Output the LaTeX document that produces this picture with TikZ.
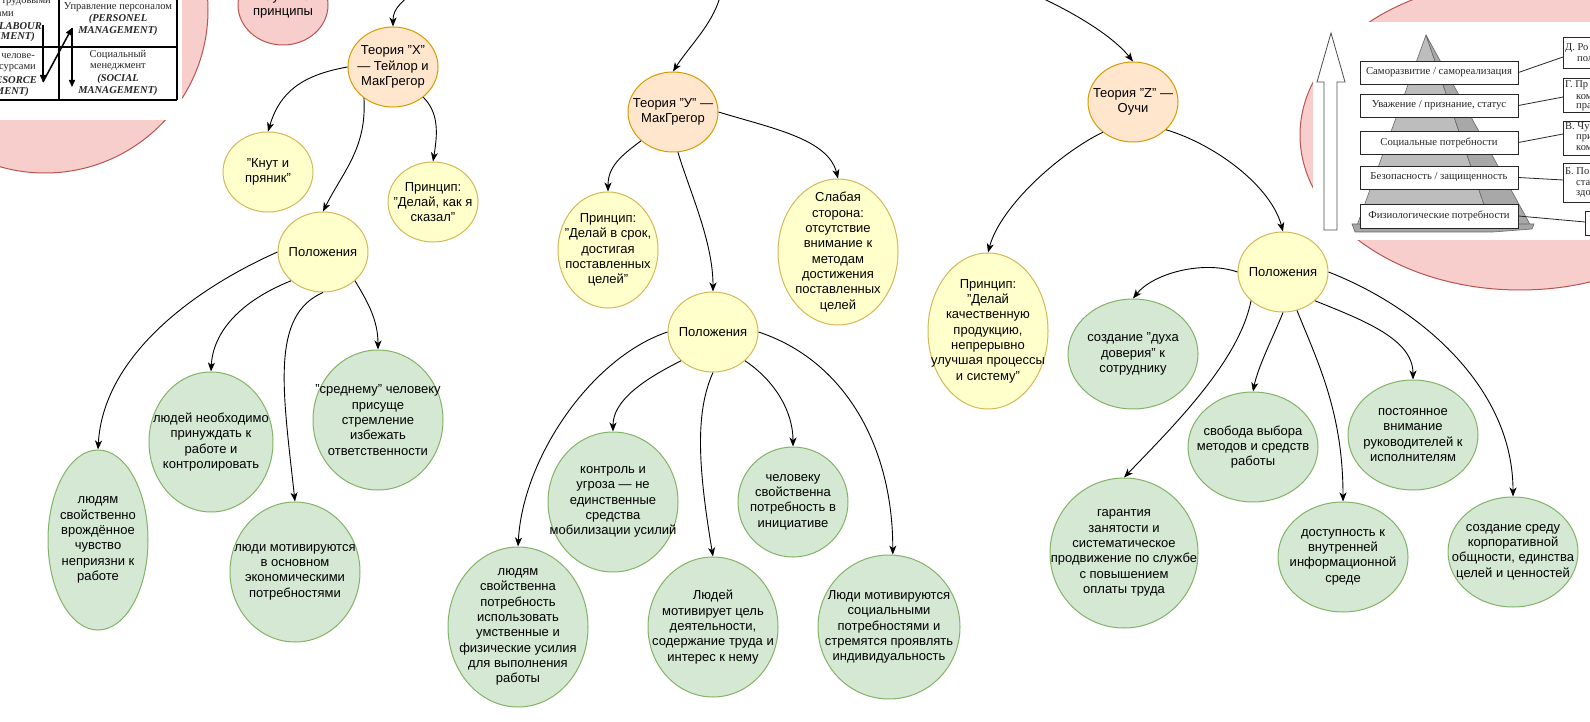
\documentclass[tikz,border=0pt]{standalone}
\usepackage{fontspec}
\setmainfont{Liberation Sans}
\newfontfamily\imgserif{Liberation Serif}
\usetikzlibrary{shapes.geometric,arrows.meta}
\definecolor{pinkF}{HTML}{F8CECC}
\definecolor{pinkD}{HTML}{B85450}
\definecolor{orF}{HTML}{FFE6CC}
\definecolor{orD}{HTML}{D79B00}
\definecolor{yeF}{HTML}{FFFFCC}
\definecolor{yeD}{HTML}{D6B656}
\definecolor{grF}{HTML}{D5E8D4}
\definecolor{grD}{HTML}{82B366}
\definecolor{imgInk}{HTML}{262626}
\definecolor{pyrL}{HTML}{BDBDBD}
\definecolor{pyrR}{HTML}{A8A8A8}
\tikzset{
  bub/.style={ellipse, draw, line width=1pt, inner sep=-100pt, align=center,
    font=\fontsize{13}{15.3}\selectfont, text=black},
  pinkn/.style={bub, fill=pinkF, draw=pinkD},
  orn/.style={bub, fill=orF, draw=orD},
  yel/.style={bub, fill=yeF, draw=yeD},
  grn/.style={bub, fill=grF, draw=grD},
  arr/.style={draw=black, line width=0.9pt, -{Stealth[length=9pt,width=7pt,inset=2.5pt]}},
  imgtxt/.style={inner sep=0pt, font=\imgserif\fontsize{10.5}{12}\selectfont, text=imgInk},
  imgit/.style={imgtxt, font=\imgserif\bfseries\itshape\fontsize{10.5}{12}\selectfont},
  tabline/.style={draw=black, line width=1.4pt},
  tabarr/.style={draw=black, line width=1.5pt, -{Triangle[length=7pt,width=6pt]}},
  mbox/.style={draw=imgInk, fill=white, line width=0.8pt, inner sep=0pt,
    font=\imgserif\fontsize{10.7}{12}\selectfont, text=imgInk},
  rtxt/.style={inner sep=0pt, anchor=west, font=\imgserif\fontsize{10.5}{12}\selectfont, text=imgInk},
  mline/.style={draw=imgInk, line width=0.8pt},
}
\begin{document}
\begin{tikzpicture}[x=1pt,y=-1pt]
\useasboundingbox (0,0) rectangle (1590,722);
\fill[white] (0,0) rectangle (1590,722);
\clip (0,0) rectangle (1590,722);

% ---------- top-left pink circle with table image ----------
\node[pinkn, minimum width=326, minimum height=326] (bigL) at (45,10) {};
\fill[white] (0,-5) rectangle (182,120);
\draw[tabline] (59,-5) -- (59,100);
\draw[tabline] (177,-5) -- (177,100);
\draw[tabline] (-5,47) -- (177,47);
\draw[tabline] (-5,100) -- (177,100);
\coordinate (ta1) at (43,25);
\coordinate (ta2) at (43,82);
\coordinate (ta3) at (72,28);
\coordinate (ta4) at (72,87);
\draw[tabarr] (ta1) -- (ta2);
\draw[tabarr] (ta2) -- (ta3);
\draw[tabarr] (ta3) -- (ta4);
\node[imgtxt] (t1) at (118,7) {Управление персоналом};
\node[imgit] (t2) at (118,19) {(PERSONEL};
\node[imgit] (t3) at (118,31) {MANAGEMENT)};
\node[imgtxt] (t4) at (118,55) {Социальный};
\node[imgtxt] (t5) at (118,67) {менеджмент};
\node[imgit] (t6) at (118,79) {(SOCIAL};
\node[imgit] (t7) at (118,91) {MANAGEMENT)};
\node[imgtxt, anchor=east] (l1) at (51,2) {трудовыми};
\node[imgtxt, anchor=east] (l2) at (14,14) {сами};
\node[imgit, anchor=east] (l3) at (42,26) {LABOUR};
\node[imgit, anchor=east] (l4) at (35,37) {EMENT)};
\node[imgtxt, anchor=east] (l5) at (35,56) {челове-};
\node[imgtxt, anchor=east] (l6) at (36,68) {сурсами};
\node[imgit, anchor=east] (l7) at (37,80) {ESORCE};
\node[imgit, anchor=east] (l8) at (29,92) {MENT)};

% ---------- top-right pink ellipse with Maslow image ----------
\node[pinkn, minimum width=440, minimum height=310] (bigR) at (1520,135) {};
\fill[white] (1313,22) rectangle (1592,240);
\draw[draw=imgInk!80, fill=white, line width=0.8pt]
  (1324,230) -- (1324,82) -- (1317,82) -- (1331,33) -- (1345,82) -- (1337,82) -- (1337,230) -- cycle;
\fill[pyrL, draw=imgInk!70, line width=0.6pt] (1426,35) -- (1493,231) -- (1355,231) -- cycle;
\fill[pyrR, draw=imgInk!70, line width=0.6pt] (1426,35) -- (1532,228) -- (1493,231) -- cycle;
\fill[gray!70, draw=imgInk!70, line width=0.6pt] (1352,224) -- (1534,224) -- (1532,229) -- (1493,232) -- (1355,232) -- cycle;
\node[mbox, minimum width=158, minimum height=23] (m1) at (1439,72.5) {Саморазвитие / самореализация};
\node[mbox, minimum width=158, minimum height=23] (m2) at (1439,105.5) {Уважение / признание, статус};
\node[mbox, minimum width=158, minimum height=23] (m3) at (1439,142.5) {Социальные потребности};
\node[mbox, minimum width=158, minimum height=23] (m4) at (1439,177.5) {Безопасность / защищенность};
\node[mbox, minimum width=158, minimum height=24] (m5) at (1439,216) {Физиологические потребности};
\node[mbox, anchor=north west, minimum width=60, minimum height=31] (r1) at (1563,37) {};
\node[mbox, anchor=north west, minimum width=60, minimum height=34] (r2) at (1563,78) {};
\node[mbox, anchor=north west, minimum width=60, minimum height=34] (r3) at (1563,121) {};
\node[mbox, anchor=north west, minimum width=60, minimum height=39] (r4) at (1563,163) {};
\node[mbox, anchor=north west, minimum width=40, minimum height=24] (r5) at (1585,211) {};
\node[rtxt] (r1a) at (1565,48) {Д. Ро};
\node[rtxt] (r1b) at (1577,59) {пол};
\node[rtxt] (r2a) at (1565,85) {Г. Пр};
\node[rtxt] (r2b) at (1576,97) {ком};
\node[rtxt] (r2c) at (1576,107) {пра};
\node[rtxt] (r3a) at (1565,127) {В. Чу};
\node[rtxt] (r3b) at (1576,138) {при};
\node[rtxt] (r3c) at (1576,148) {ком};
\node[rtxt] (r4a) at (1565,171) {Б. По};
\node[rtxt] (r4b) at (1576,183) {ста};
\node[rtxt] (r4c) at (1576,194) {здо};
\coordinate (r1in) at (1563,57);
\coordinate (r2in) at (1563,97);
\coordinate (r3in) at (1563,134);
\coordinate (r4in) at (1563,180);
\coordinate (r5in) at (1585,222);
\draw[mline] (m1.east) -- (r1in);
\draw[mline] (m2.east) -- (r2in);
\draw[mline] (m3.east) -- (r3in);
\draw[mline] (m4.east) -- (r4in);
\draw[mline] (m5.east) -- (r5in);

% ---------- nodes ----------
\node[pinkn, minimum width=90, minimum height=80] (sci) at (283,5) {Научные\\принципы};

\node[orn, minimum width=90, minimum height=80] (thX) at (393,67) {Теория "X"\\— Тейлор и\\МакГрегор};
\node[yel, minimum width=90, minimum height=80] (knut) at (268,172) {"Кнут и\\пряник"};
\node[yel, minimum width=90, minimum height=80] (prX) at (433,202) {Принцип:\\"Делай, как я\\сказал"};
\node[yel, minimum width=90, minimum height=80] (polX) at (323,252) {Положения};
\node[grn, minimum width=100, minimum height=180] (gx1) at (98,540) {людям\\свойственно\\врождённое\\чувство\\неприязни к\\работе};
\node[grn, minimum width=124, minimum height=140] (gx2) at (211,442) {людей необходимо\\принуждать к\\работе и\\контролировать};
\node[grn, minimum width=130, minimum height=140] (gx3) at (295,572) {люди мотивируются\\в основном\\экономическими\\потребностями};
\node[grn, minimum width=130, minimum height=140] (gx4) at (378,420) {"среднему" человеку\\присуще\\стремление\\избежать\\ответственности};

\node[orn, minimum width=90, minimum height=80] (thY) at (673,112) {Теория "У" —\\МакГрегор};
\node[yel, minimum width=100, minimum height=116] (prY) at (608,250) {Принцип:\\"Делай в срок,\\достигая\\поставленных\\целей"};
\node[yel, minimum width=120, minimum height=146] (weak) at (838,252) {Слабая\\сторона:\\отсутствие\\внимание к\\методам\\достижения\\поставленных\\целей};
\node[yel, minimum width=90, minimum height=80] (polY) at (713,332) {Положения};
\node[grn, minimum width=140, minimum height=160] (gy1) at (518,627) {людям\\свойственна\\потребность\\использовать\\умственные и\\физические усилия\\для выполнения\\работы};
\node[grn, minimum width=130, minimum height=140] (gy2) at (613,502) {контроль и\\угроза — не\\единственные\\средства\\мобилизации усилий};
\node[grn, minimum width=130, minimum height=140] (gy3) at (713,627) {Людей\\мотивирует цель\\деятельности,\\содержание труда и\\интерес к нему};
\node[grn, minimum width=110, minimum height=110] (gy4) at (793,502) {человеку\\свойственна\\потребность в\\инициативе};
\node[grn, minimum width=142, minimum height=144] (gy5) at (889,627) {Люди мотивируются\\социальными\\потребностями и\\стремятся проявлять\\индивидуальность};

\node[orn, minimum width=90, minimum height=80] (thZ) at (1133,102) {Теория "Z" —\\Оучи};
\node[yel, minimum width=120, minimum height=156] (prZ) at (988,331) {Принцип:\\"Делай\\качественную\\продукцию,\\непрерывно\\улучшая процессы\\и систему"};
\node[yel, minimum width=90, minimum height=80] (polZ) at (1283,272) {Положения};
\node[grn, minimum width=130, minimum height=110] (gz1) at (1133,354) {создание "духа\\доверия" к\\сотруднику};
\node[grn, minimum width=148, minimum height=150] (gz2) at (1124,553) {гарантия\\занятости и\\систематическое\\продвижение по службе\\с повышением\\оплаты труда};
\node[grn, minimum width=130, minimum height=110] (gz3) at (1253,447) {свобода выбора\\методов и средств\\работы};
\node[grn, minimum width=130, minimum height=110] (gz4) at (1413,435) {постоянное\\внимание\\руководителей к\\исполнителям};
\node[grn, minimum width=130, minimum height=110] (gz5) at (1343,557) {доступность к\\внутренней\\информационной\\среде};
\node[grn, minimum width=130, minimum height=110] (gz6) at (1513,552) {создание среду\\корпоративной\\общности, единства\\целей и ценностей};

% ---------- connectors ----------
\coordinate (srcX) at (420,-14);
\coordinate (srcY) at (722,-14);
\coordinate (srcZ) at (1015,-14);

\draw[arr] (srcX) .. controls (402,2) and (393,8) .. (thX.north);
\draw[arr] (thX.west) .. controls +(-45,8) and +(12,-40) .. (knut.north);
\draw[arr] (thX.-45) .. controls +(15,15) and +(5,-30) .. (prX.north);
\draw[arr] (thX.-133) .. controls +(3,50) and +(20,-40) .. (polX.north);
\draw[arr] (polX.west) .. controls +(-90,40) and +(5,-90) .. (gx1.north);
\draw[arr] (polX.222) .. controls +(-50,20) and +(2,-40) .. (gx2.north);
\draw[arr] (polX.south) .. controls +(-53,23) and +(-12,-110) .. (gx3.north);
\draw[arr] (polX.-42) .. controls +(12,20) and +(0,-30) .. (gx4.north);

\draw[arr] (srcY) .. controls (719,18) and (690,45) .. (thY.north);
\draw[arr] (thY.222) .. controls +(-20,15) and +(0,-25) .. (prY.north);
\draw[arr] (thY.-83) .. controls +(12,40) and +(0,-50) .. (polY.north);
\draw[arr] (thY.east) .. controls +(52,16) and +(-10,-40) .. (weak.north);
\draw[arr] (polY.west) .. controls +(-75,25) and +(5,-90) .. (gy1.north);
\draw[arr] (polY.222) .. controls +(-40,20) and +(0,-30) .. (gy2.north);
\draw[arr] (polY.south) .. controls +(-18,40) and +(-15,-90) .. (gy3.north);
\draw[arr] (polY.-42) .. controls +(30,20) and +(0,-35) .. (gy4.north);
\draw[arr] (polY.east) .. controls +(85,28) and +(0,-110) .. (gy5.87);

\draw[arr] (srcZ) .. controls (1068,8) and (1112,35) .. (thZ.north);
\draw[arr] (thZ.-40) .. controls +(50,15) and +(-12,-45) .. (polZ.north);
\draw[arr] (thZ.225) .. controls +(-45,22) and +(12,-45) .. (prZ.north);
\draw[arr] (polZ.west) .. controls +(-35,-12) and +(20,-25) .. (gz1.north);
\draw[arr] (polZ.222) .. controls +(-12,60) and +(51,-53) .. (gz2.north);
\draw[arr] (polZ.south) .. controls +(-10,25) and +(5,-25) .. (gz3.north);
\draw[arr] (polZ.-70) .. controls +(20,50) and +(0,-90) .. (gz5.north);
\draw[arr] (polZ.-42) .. controls +(50,20) and +(0,-40) .. (gz4.north);
\draw[arr] (polZ.east) .. controls +(90,35) and +(0,-110) .. (gz6.north);
\end{tikzpicture}
\end{document}
